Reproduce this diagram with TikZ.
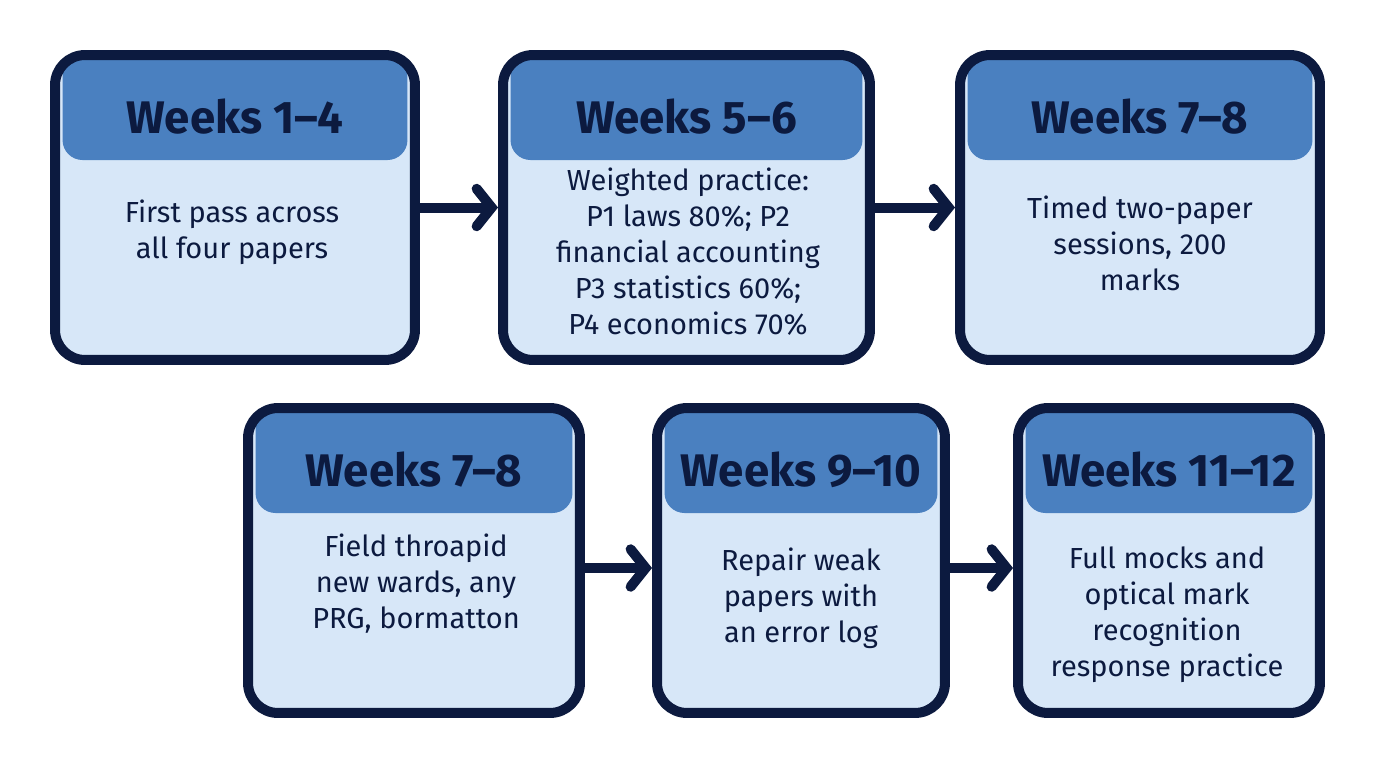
\documentclass[tikz,border=0pt]{standalone}
\usepackage{fontspec}
\setmainfont{Fira Sans}
\usetikzlibrary{positioning,arrows.meta}
\definecolor{navy}{HTML}{0C1A3F}
\definecolor{headblue}{HTML}{4A80C0}
\definecolor{bodyblue}{HTML}{D7E7F8}
\tikzset{
  stage/.style={draw=navy, line width=0.2cm, fill=bodyblue, rounded corners=0.6cm,
    minimum height=6.1cm, inner sep=0pt,
    path picture={\fill[headblue, rounded corners=0.4cm]
      ([xshift=0.15cm,yshift=0.3cm]path picture bounding box.north west) rectangle
      ([xshift=-0.15cm,yshift=-2.1cm]path picture bounding box.north east);}},
  head/.style={font=\fontsize{26}{28}\selectfont\bfseries, text=navy},
  body/.style={font=\fontsize{16.5}{20.5}\selectfont, text=navy, align=center},
  flow/.style={navy, line width=0.2cm, line cap=round, -{Straight Barb[length=0.3cm,width=0.75cm,line cap=round]}}
}
\begin{document}
\begin{tikzpicture}[x=0.02cm, y=-0.02cm]
\useasboundingbox (0,0) rectangle (1376,768);
% top row
\node (s1) [stage, minimum width=7.2cm] at (235,207.5) {};
\node (s2) [stage, minimum width=7.34cm] at (686.5,207.5) {};
\node (s3) [stage, minimum width=7.2cm] at (1140,207.5) {};
% bottom row
\node (s4) [stage, minimum width=6.64cm] at (414,560.5) {};
\node (s5) [stage, minimum width=5.76cm] at (801,560.5) {};
\node (s6) [stage, minimum width=6.04cm] at (1169,560.5) {};
% headers
\node [head] at (235,117) {Weeks 1–4};
\node [head] at (686.5,117) {Weeks 5–6};
\node [head] at (1140,117) {Weeks 7–8};
\node [head] at (414,470) {Weeks 7–8};
\node [head] at (801,470) {Weeks 9–10};
\node [head] at (1169,470) {Weeks 11–12};
% texts
\node [body] at (232,232) {First pass across\\all four papers};
\node [body] at (688,252) {Weighted practice:\\P1 laws 80\%; P2\\financial accounting\\P3 statistics 60\%;\\P4 economics 70\%};
\node [body] at (1140,243) {Timed two-paper\\sessions, 200\\marks};
\node [body] at (416,584) {Field throapid\\new wards, any\\PRG, bormatton};
\node [body] at (801,598) {Repair weak\\papers with\\an error log};
\node [body] at (1167,615) {Full mocks and\\optical mark\\recognition\\response practice};
% arrows
\draw [flow] (s1) -- (s2);
\draw [flow] (s2) -- (s3);
\draw [flow] ([yshift=-0.15cm]s4.east) -- ([yshift=-0.15cm]s5.west);
\draw [flow] ([yshift=-0.15cm]s5.east) -- ([yshift=-0.15cm]s6.west);
\end{tikzpicture}
\end{document}
